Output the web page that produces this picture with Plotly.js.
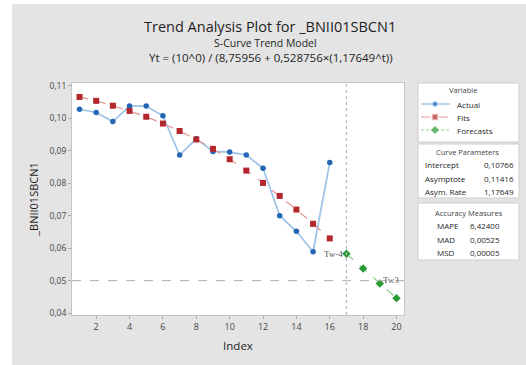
<!DOCTYPE html>
<html>
<head>
<meta charset="utf-8">
<script src="https://cdn.plot.ly/plotly-3.0.1.min.js"></script>
<style>html,body{margin:0;padding:0;background:#fff;}#chart{width:526px;height:365px;}</style>
</head>
<body>
<div id="chart"></div>
<script>
// ---- data ----
const actualIndex = [1,2,3,4,5,6,7,8,9,10,11,12,13,14,15,16];
const actualValues = [0.1028,0.1018,0.0990,0.1038,0.1038,0.1008,0.0887,0.0937,0.0898,0.0896,0.0887,0.0846,0.0700,0.0652,0.0589,0.0864];
const fitIndex = [1,2,3,4,5,6,7,8,9,10,11,12,13,14,15,16];
const fitValues = [0.1066,0.1054,0.1039,0.1023,0.1005,0.0984,0.0961,0.0935,0.0906,0.0874,0.0839,0.0801,0.0761,0.0719,0.0675,0.0630];
const forecastIndex = [17,18,19,20];
const forecastValues = [0.0583,0.0537,0.0491,0.0446];
const xTicks = [2,4,6,8,10,12,14,16,18,20];
const yTicks = [0.04,0.05,0.06,0.07,0.08,0.09,0.10,0.11];
const seriesNames = ['Actual','Fits','Forecasts'];
const curveParamLabels = ['Intercept','Asymptote','Asym. Rate'];
const curveParamValues = ['0,10766','0,11416','1,17649'];
const accuracyLabels = ['MAPE','MAD','MSD'];
const accuracyValues = ['6,42400','0,00525','0,00005'];
const titleText = 'Trend Analysis Plot for _BNII01SBCN1';
const subtitleText = 'S-Curve Trend Model';
const formulaText = 'Yt = (10^0) / (8,75956 + 0,528756×(1,17649^t))';
const forecastStart = 17;
const refLevel = 0.05;

// ---- layout helpers (pixels -> paper) ----
const W = 526, H = 365, ML = 72, MR = 0, MT = 83, MB = 50;
const PW = W - ML - MR, PH = H - MT - MB;
const px = x => (x - ML) / PW;
const py = y => (H - MB - y) / PH;

const FONT = 'Open Sans, Liberation Sans, sans-serif';
const C = {
  actLine: '#9dc3e8', actMk: '#2466b5',
  fitLine: '#e29a9a', fitMk: '#b3262b',
  fcLine: '#93cf93', fcMk: '#2a9a34',
  text: '#262626', tick: '#444444', panel: '#e4e4e4', border: '#cdcdcd'
};

const traces = [
  {x: actualIndex, y: actualValues, type: 'scatter', mode: 'lines+markers', name: seriesNames[0],
   line: {color: C.actLine, width: 1.7}, marker: {color: C.actMk, size: 5.5, symbol: 'circle'}},
  {x: fitIndex, y: fitValues, type: 'scatter', mode: 'lines+markers', name: seriesNames[1],
   line: {color: C.fitLine, width: 1.3, dash: 'dash'}, marker: {color: C.fitMk, size: 6, symbol: 'square'}},
  {x: forecastIndex, y: forecastValues, type: 'scatter', mode: 'lines+markers', name: seriesNames[2],
   line: {color: C.fcLine, width: 1.3, dash: 'dash'}, marker: {color: C.fcMk, size: 6.5, symbol: 'diamond'}}
];

// legend sample glyphs drawn on a small hidden axis pair
const legendRows = [21, 34, 47];
const legendStyles = [
  {line: {color: C.actLine, width: 1.4}, mk: {color: C.actMk, symbol: 'circle', size: 5}},
  {line: {color: C.fitLine, width: 1.2, dash: 'dash'}, mk: {color: C.fitMk, symbol: 'square', size: 5.5}},
  {line: {color: C.fcLine, width: 1.2, dash: '3px,2px'}, mk: {color: C.fcMk, symbol: 'diamond', size: 6}}
];
legendStyles.forEach((s, i) => {
  traces.push({x: [3, 17, 32], y: [legendRows[i], legendRows[i], legendRows[i]], xaxis: 'x2', yaxis: 'y2',
    type: 'scatter', mode: 'lines+markers', showlegend: false, hoverinfo: 'skip',
    line: s.line, marker: {color: s.mk.color, symbol: s.mk.symbol, size: [0, s.mk.size, 0]}});
});

const box = (x0, y0, x1, y1) => ({type: 'rect', xref: 'paper', yref: 'paper', x0: px(x0), x1: px(x1), y0: py(y1), y1: py(y0),
  fillcolor: '#ffffff', line: {color: C.border, width: 1}, layer: 'below'});

const shapes = [
  // white surround outside grey panel
  {type: 'rect', xref: 'paper', yref: 'paper', x0: px(0), x1: px(W), y0: py(4), y1: py(0), fillcolor: '#ffffff', line: {width: 0}, layer: 'below'},
  {type: 'rect', xref: 'paper', yref: 'paper', x0: px(0), x1: px(12), y0: py(H), y1: py(0), fillcolor: '#ffffff', line: {width: 0}, layer: 'below'},
  box(418, 83, 519, 142),
  box(418, 144, 519, 198),
  box(418, 203, 519, 260),
  {type: 'line', xref: 'x domain', yref: 'y', x0: 0, x1: 1, y0: refLevel, y1: refLevel, line: {color: '#b0b0b0', width: 1, dash: 'dash'}},
  {type: 'line', xref: 'x', yref: 'y domain', x0: forecastStart, x1: forecastStart, y0: 0, y1: 1, line: {color: '#b8b8b8', width: 1.2, dash: 'dot'}}
];

const ann = (text, x, y, opts = {}) => Object.assign({text, x: px(x), y: py(y), xref: 'paper', yref: 'paper', showarrow: false,
  xanchor: 'center', yanchor: 'middle', font: {family: FONT, size: 8, color: C.text}}, opts);

const annotations = [
  ann(titleText, 270, 26, {font: {family: FONT, size: 14.5, color: '#1e1e1e'}}),
  ann(subtitleText, 265, 43, {font: {family: FONT, size: 10.5, color: '#1e1e1e'}}),
  ann(formulaText, 271, 58, {font: {family: FONT, size: 11.5, color: '#1e1e1e'}}),
  ann('Variable', 463, 90, {font: {family: FONT, size: 7.5, color: '#444'}}),
  ann('Curve Parameters', 467, 152, {font: {family: FONT, size: 7.5, color: '#444'}}),
  ann('Accuracy Measures', 469, 213, {font: {family: FONT, size: 7.5, color: '#444'}}),
  {text: 'Tw-4', x: forecastIndex[0], y: forecastValues[0], xref: 'x', yref: 'y', showarrow: false, xanchor: 'right', yanchor: 'middle', xshift: -1,
   font: {family: 'Liberation Serif, serif', size: 9, color: '#555'}},
  {text: 'Tw3', x: forecastIndex[2], y: forecastValues[2], xref: 'x', yref: 'y', showarrow: false, xanchor: 'left', yanchor: 'bottom', xshift: 1, yshift: -3,
   font: {family: 'Liberation Serif, serif', size: 9, color: '#555'}}
];
const legendTextY = [104, 117, 130];
seriesNames.forEach((n, i) => annotations.push(ann(n, 455, legendTextY[i], {xanchor: 'left'})));
const cpY = [164, 178, 191];
curveParamLabels.forEach((l, i) => {
  annotations.push(ann(l, 423, cpY[i], {xanchor: 'left'}));
  annotations.push(ann(curveParamValues[i], 516, cpY[i], {xanchor: 'right'}));
});
const amY = [225, 239, 252];
accuracyLabels.forEach((l, i) => {
  annotations.push(ann(l, 435, amY[i], {xanchor: 'left'}));
  annotations.push(ann(accuracyValues[i], 468, amY[i], {xanchor: 'left'}));
});

const layout = {
  width: W, height: H,
  margin: {l: ML, r: MR, t: MT, b: MB, pad: 0},
  paper_bgcolor: C.panel, plot_bgcolor: '#ffffff',
  separators: ', ',
  showlegend: false,
  font: {family: FONT, color: C.text},
  xaxis: {domain: [0, px(404)], range: [0.55, 20.45], tickvals: xTicks, ticks: 'outside', ticklen: 3, tickcolor: '#aaa',
    showline: true, linecolor: '#c4c4c4', mirror: true, showgrid: false, zeroline: false,
    tickfont: {family: FONT, size: 9, color: C.tick},
    title: {text: 'Index', font: {family: FONT, size: 11.5, color: '#1e1e1e'}, standoff: 10}},
  yaxis: {range: [0.0394, 0.1109], tickvals: yTicks, tickformat: '.2f', ticks: 'outside', ticklen: 3, tickcolor: '#aaa',
    showline: true, linecolor: '#c4c4c4', mirror: true, showgrid: false, zeroline: false,
    tickfont: {family: FONT, size: 8.5, color: C.tick},
    title: {text: '_BNII01SBCN1', font: {family: FONT, size: 11, color: '#1e1e1e'}, standoff: 8}},
  xaxis2: {domain: [px(418), px(519)], range: [0, 101], visible: false, anchor: 'y2', fixedrange: true},
  yaxis2: {domain: [py(142), py(83)], range: [59, 0], visible: false, anchor: 'x2', fixedrange: true},
  shapes, annotations
};

Plotly.newPlot('chart', traces, layout, {displayModeBar: false, staticPlot: true});
</script>
</body>
</html>
